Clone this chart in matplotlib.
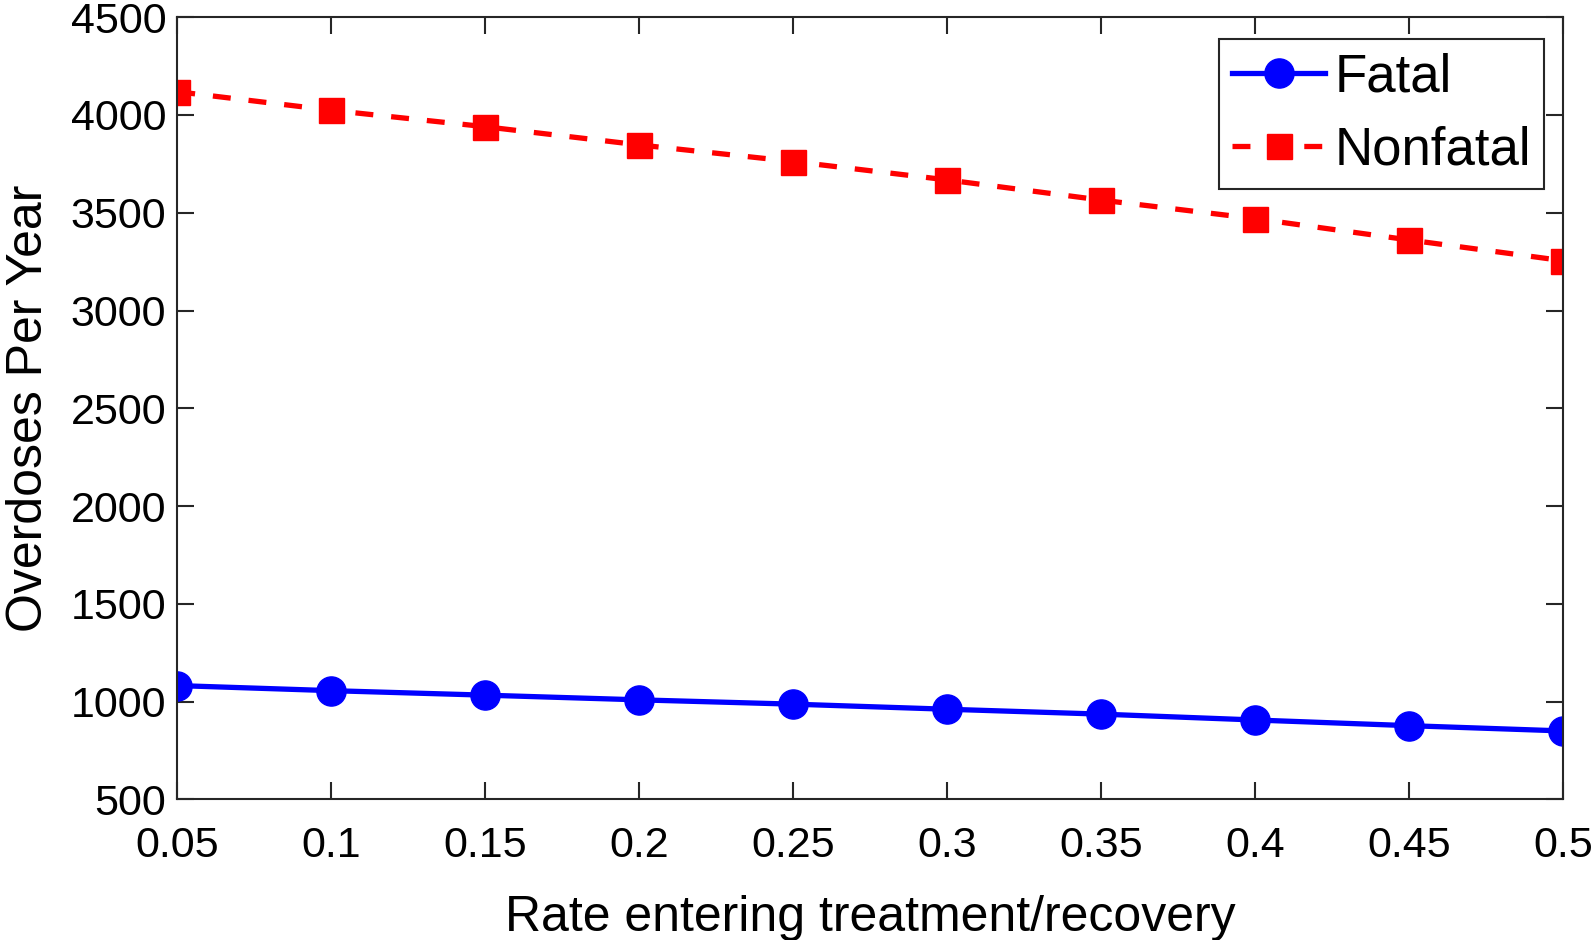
import matplotlib
matplotlib.use("Agg")
import matplotlib.pyplot as plt

rates = [0.05, 0.1, 0.15, 0.2, 0.25, 0.3, 0.35, 0.4, 0.45, 0.5]
fatal = [1082, 1056, 1033, 1009, 987, 961, 936, 906, 877, 850]
nonfatal = [4119, 4024, 3940, 3847, 3762, 3668, 3565, 3470, 3361, 3255]
xtick_labels = ["0.05", "0.1", "0.15", "0.2", "0.25", "0.3", "0.35", "0.4", "0.45", "0.5"]
yticks = [500, 1000, 1500, 2000, 2500, 3000, 3500, 4000, 4500]

plt.rcParams['font.family'] = ['Liberation Sans', 'DejaVu Sans']

fig = plt.figure(figsize=(15.94, 9.40), dpi=100)
ax = fig.add_axes([0.1112, 0.1496, 0.8692, 0.8321])

ax.plot(rates, fatal, color='#0000ff', linestyle='-', linewidth=3.8,
        marker='o', markersize=21, label='Fatal')
ax.plot(rates, nonfatal, color='#ff0000', linewidth=3.8, dashes=(3.4, 3.4),
        marker='s', markersize=18, label='Nonfatal')

ax.set_xlim(0.05, 0.5)
ax.set_ylim(500, 4500)
ax.set_xticks(rates)
ax.set_xticklabels(xtick_labels)
ax.set_yticks(yticks)

ax.tick_params(axis='both', which='both', direction='in', length=12, width=1.5,
               top=True, right=True, labelsize=31, colors='#262626',
               labelcolor='black')
ax.tick_params(axis='x', pad=19)
ax.tick_params(axis='y', pad=8)
for s in ax.spines.values():
    s.set_linewidth(1.5)
    s.set_color('#262626')

ax.set_xlabel('Rate entering treatment/recovery', fontsize=36, labelpad=21)
ax.set_ylabel('Overdoses Per Year', fontsize=36)
ax.yaxis.set_label_coords(-0.0905, 0.5)

leg = ax.legend(loc='upper right', bbox_to_anchor=(0.9865, 0.9721),
                borderaxespad=0, fontsize=38, fancybox=False, edgecolor='#262626',
                framealpha=1, handlelength=1.76, handletextpad=0.17,
                borderpad=0.25, labelspacing=0.45)
leg.get_frame().set_linewidth(1.5)

fig.savefig('out.png', dpi=100)
